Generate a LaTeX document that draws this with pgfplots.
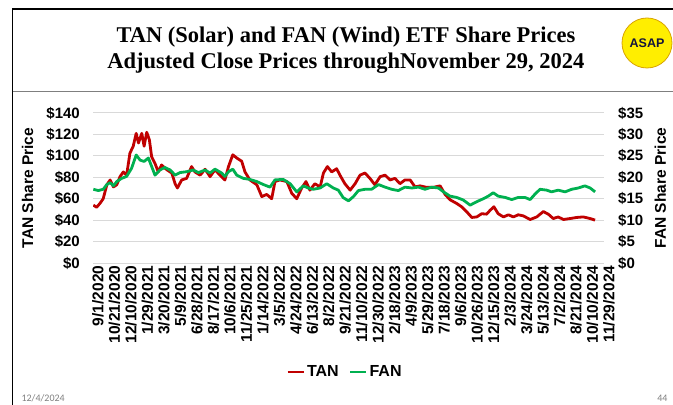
\documentclass[border=0pt]{standalone}
\usepackage{pgfplots}
\pgfplotsset{compat=1.18}
\usepackage{pgfplotstable}
\usepackage{fontspec}
\setmainfont{Liberation Sans}
\newfontfamily\titlefont{Liberation Serif}
\newfontfamily\footfont{Carlito}
\definecolor{tanred}{HTML}{C00000}
\definecolor{fangreen}{HTML}{00B050}
\definecolor{gridgray}{HTML}{D9D9D9}
\definecolor{sepgray}{HTML}{7F7F7F}
\definecolor{asapyellow}{HTML}{FFEE00}
\definecolor{asapedge}{HTML}{D9A400}

\pgfplotstableread{
day tan
1 54
11 52
21 55.6
31 60
42 73
52 77.5
62 71
72 73
82 80.6
92 85
102 82
112 102.5
122 109
131 121
138 112
148 121
155 109
163 122
171 115
178 99
188 93
198 85
208 91.5
224 87
239 84
249 74
256 70
269 77.5
284 79
299 90
309 85
325 82
340 87.5
355 80.6
370 87
385 82
400 77.5
411 90
424 101
436 98
451 95
461 85
476 77.5
497 73
512 62
527 64
542 60
552 76
567 77.5
588 76
603 65
618 60
633 70
646 76
658 68
673 74
689 71
699 84
711 90
724 85
739 88
749 82
764 74
780 68
795 74
810 82
825 84
840 79
855 73
871 80.6
886 82
901 77.5
916 79
931 74
946 77.5
962 77.5
977 71
992 72
1012 70.6
1032 70.6
1053 72
1068 64
1083 59
1103 55.6
1118 52.5
1133 48
1149 42.5
1164 43
1179 46
1194 45.6
1204 49
1216 52.5
1229 46
1245 43
1260 45
1275 43
1290 45
1305 44
1326 40.6
1346 43
1366 48
1381 45.6
1396 41.5
1411 43
1427 40.6
1447 41.5
1467 42.5
1487 43
1508 41.5
1523 40
}\tandata

\pgfplotstableread{
day fan
1 17.2
16 16.9
31 17.2
42 18.3
52 18.75
62 18
72 19
87 19.75
102 20.2
117 22.1
131 25.2
143 24
155 23.7
168 24.5
178 22.5
188 20.5
203 21.7
218 22.3
234 21.7
249 20.5
264 21.1
284 21.3
304 21.7
320 21.1
340 21.7
355 21
370 21.9
390 21
400 20.2
411 21.3
424 21.9
436 20.5
456 19.75
476 19.5
497 19
517 18.3
537 17.7
552 19.4
577 19.5
598 18.5
618 16.6
638 18
653 17.5
668 17.2
689 17.5
709 18.5
729 17.5
744 17
759 15.25
775 14.5
790 15.5
805 16.9
825 17.2
845 17.2
866 18.3
886 17.7
906 17.2
926 16.9
946 17.7
967 17.5
987 17.7
1007 17.2
1027 17.7
1048 17.5
1063 16.6
1083 15.6
1103 15.3
1123 14.7
1144 13.5
1164 14.3
1184 15
1199 15.6
1214 16.4
1229 15.6
1250 15.3
1270 14.8
1290 15.3
1310 15.3
1326 14.8
1341 16.1
1356 17.2
1376 17
1391 16.6
1411 17
1432 16.6
1452 17.2
1472 17.5
1492 18
1508 17.5
1523 16.6
}\fandata

\begin{document}
\begin{tikzpicture}
\fill[white] (0bp,0bp) rectangle (673bp,405bp);
\useasboundingbox (0bp,0bp) rectangle (673bp,405bp);
% slide frame
\draw[black, line width=1.1bp] (12.5bp,0bp) -- (12.5bp,396bp) -- (673bp,396bp);
\draw[sepgray, line width=1.6bp] (12.5bp,313.5bp) -- (673bp,313.5bp);
% title
\node[font=\titlefont\bfseries\fontsize{22.5bp}{26bp}\selectfont, align=center] at (346bp,355bp)
  {TAN (Solar) and FAN (Wind) ETF Share Prices\\Adjusted Close Prices throughNovember 29, 2024};
% logo
\filldraw[fill=asapyellow, draw=asapedge, line width=0.8bp] (647bp,362bp) circle (25bp);
\node[font=\bfseries\fontsize{12.5bp}{14bp}\selectfont, text={rgb,255:red,20;green,20;blue,60}] at (647bp,362bp) {ASAP};
% footer
\node[font=\footfont\fontsize{10bp}{11bp}\selectfont, text=gray, anchor=west] at (18bp,7bp) {12/4/2024};
\node[font=\footfont\fontsize{10bp}{11bp}\selectfont, text=gray, anchor=east] at (671bp,7bp) {44};

\begin{axis}[
  at={(93bp,142bp)}, anchor=south west,
  scale only axis, width=511bp, height=150bp,
  xmin=0, xmax=1550, ymin=0, ymax=140,
  axis line style={draw=none},
  major tick length=0pt,
  ymajorgrids, grid style={gridgray, line width=1bp},
  ytick={0,20,...,140},
  yticklabels={\$0,\$20,\$40,\$60,\$80,\$100,\$120,\$140},
  xtick={0,50,...,1550},
  xticklabels={9/1/2020,10/21/2020,12/10/2020,1/29/2021,3/20/2021,5/9/2021,6/28/2021,8/17/2021,10/6/2021,11/25/2021,1/14/2022,3/5/2022,4/24/2022,6/13/2022,8/2/2022,9/21/2022,11/10/2022,12/30/2022,2/18/2023,4/9/2023,5/29/2023,7/18/2023,9/6/2023,10/26/2023,12/15/2023,2/3/2024,3/24/2024,5/13/2024,7/2/2024,8/21/2024,10/10/2024,11/29/2024},
  yticklabel style={font=\bfseries\fontsize{15bp}{17bp}\selectfont, anchor=east, xshift=-12bp, inner sep=1bp},
  xticklabel style={font=\bfseries\fontsize{15.5bp}{17bp}\selectfont, rotate=90, anchor=east, yshift=-5bp, xshift=-1.5bp, inner sep=1bp},
  ylabel={TAN Share Price},
  ylabel style={font=\bfseries\fontsize{15.5bp}{17bp}\selectfont, at={(axis description cs:-0.128,0.5)}, anchor=center},
  legend style={at={(axis description cs:0.493,-0.727)}, anchor=center, draw=none, fill=none,
    legend columns=2, font=\bfseries\fontsize{16bp}{18bp}\selectfont,
    /tikz/every even column/.append style={column sep=8bp}},
  legend image code/.code={\draw[#1] (0bp,0bp) -- (16bp,0bp);},
]
\addplot[tanred, line width=2.8bp, line join=round] table[x=day, y=tan] {\tandata};
\addlegendentry{TAN}
\addlegendimage{fangreen, line width=2.8bp}
\addlegendentry{FAN}
\end{axis}

\begin{axis}[
  at={(93bp,142bp)}, anchor=south west,
  scale only axis, width=511bp, height=150bp,
  xmin=0, xmax=1550, ymin=0, ymax=35,
  axis y line*=right, axis x line=none,
  axis line style={draw=none},
  major tick length=0pt,
  ytick={0,5,...,35},
  yticklabels={\$0,\$5,\$10,\$15,\$20,\$25,\$30,\$35},
  yticklabel style={font=\bfseries\fontsize{15bp}{17bp}\selectfont, anchor=west, xshift=13bp, inner sep=1bp},
  ylabel={FAN Share Price},
  ylabel style={font=\bfseries\fontsize{15.5bp}{17bp}\selectfont, at={(axis description cs:1.11,0.5)}, anchor=center, rotate=0},
]
\addplot[fangreen, line width=2.8bp, line join=round] table[x=day, y=fan] {\fandata};
\end{axis}
\end{tikzpicture}
\end{document}
